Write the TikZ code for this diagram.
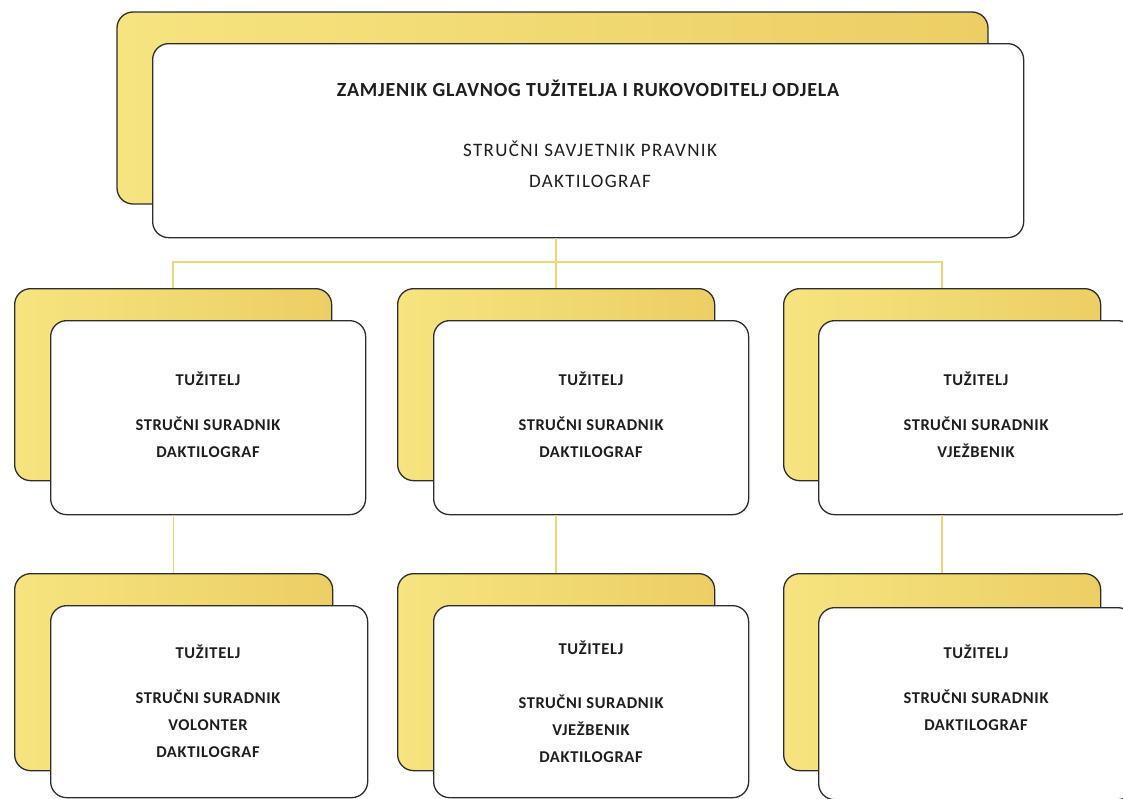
\documentclass[tikz,border=0pt]{standalone}
\usepackage{fontspec}
\setmainfont{Carlito}
\newfontfamily\boxfont[LetterSpace=4]{Carlito}
\newfontfamily\subfont[LetterSpace=7]{Carlito}
\definecolor{edge}{RGB}{45,45,45}
\definecolor{goldL}{RGB}{246,228,128}
\definecolor{goldR}{RGB}{236,206,100}
\definecolor{conn}{RGB}{236,214,120}
\definecolor{ink}{RGB}{30,30,30}
\begin{document}
\begin{tikzpicture}[x=1pt,y=-1pt,
  backbox/.style={draw=edge,line width=1.3pt,rounded corners=16pt,left color=goldL,right color=goldR},
  frontbox/.style={draw=edge,line width=1.3pt,rounded corners=16pt,fill=white},
  conline/.style={draw=conn,line width=1.4pt},
  lbl/.style={text=ink,font=\boxfont\bfseries\fontsize{16.5}{27}\selectfont,align=center,anchor=north,inner sep=0pt},
  toplbl/.style={text=ink,font=\subfont\fontsize{19}{31}\selectfont,align=center,anchor=north,inner sep=0pt}]
\useasboundingbox (0,0) rectangle (1123,798);
\begin{scope}
\clip (0,0) rectangle (1123,798);
% top
\path[backbox] (117,12) rectangle (988,204);
\node[frontbox,minimum width=871pt,minimum height=194pt,anchor=north west] (top) at (152,43) {};
\node[text=ink,font=\boxfont\bfseries\fontsize{20}{22}\selectfont,inner sep=0pt] (title) at (588,88) {ZAMJENIK GLAVNOG TUŽITELJA I RUKOVODITELJ ODJELA};
\node[toplbl] (topsub) at (590,141) {STRUČNI SAVJETNIK PRAVNIK\\DAKTILOGRAF};
% row 2 back boxes
\node[backbox,minimum width=317pt,minimum height=192pt,anchor=north west] (b1) at (14,288) {};
\node[backbox,minimum width=317pt,minimum height=192pt,anchor=north west] (b2) at (397,288) {};
\node[backbox,minimum width=317pt,minimum height=192pt,anchor=north west] (b3) at (783,288) {};
% row 2 front boxes
\node[frontbox,minimum width=315pt,minimum height=194pt,anchor=north west] (f1) at (50,320) {};
\node[frontbox,minimum width=315pt,minimum height=194pt,anchor=north west] (f2) at (433,320) {};
\node[frontbox,minimum width=315pt,minimum height=194pt,anchor=north west] (f3) at (818,320) {};
\node[lbl] (t1) at (208,372) {TUŽITELJ\\[18pt]STRUČNI SURADNIK\\DAKTILOGRAF};
\node[lbl] (t2) at (591,372) {TUŽITELJ\\[18pt]STRUČNI SURADNIK\\DAKTILOGRAF};
\node[lbl] (t3) at (976,372) {TUŽITELJ\\[18pt]STRUČNI SURADNIK\\VJEŽBENIK};
% row 3 back boxes
\node[backbox,minimum width=318pt,minimum height=197pt,anchor=north west] (c1) at (14,573) {};
\node[backbox,minimum width=317pt,minimum height=197pt,anchor=north west] (c2) at (397,573) {};
\node[backbox,minimum width=317pt,minimum height=197pt,anchor=north west] (c3) at (783,573) {};
% row 3 front boxes
\node[frontbox,minimum width=317pt,minimum height=192pt,anchor=north west] (g1) at (50,605) {};
\node[frontbox,minimum width=315pt,minimum height=192pt,anchor=north west] (g2) at (433,605) {};
\node[frontbox,minimum width=315pt,minimum height=192pt,anchor=north west] (g3) at (818,607) {};
\node[lbl] (u1) at (208,645) {TUŽITELJ\\[18pt]STRUČNI SURADNIK\\VOLONTER\\DAKTILOGRAF};
\node[lbl] (u2) at (591,641) {TUŽITELJ\\[27pt]STRUČNI SURADNIK\\VJEŽBENIK\\DAKTILOGRAF};
\node[lbl] (u3) at (976,645) {TUŽITELJ\\[18pt]STRUČNI SURADNIK\\DAKTILOGRAF};
% connectors
\coordinate (bar) at (555,262);
\draw[conline] (top.south -| b2.north) -- (b2.north);
\draw[conline] (b1.north) -- (b1.north |- bar) -- (b3.north |- bar) -- (b3.north);
\draw[conline] (f1.south -| c1.north) -- (c1.north);
\draw[conline] (f2.south -| c2.north) -- (c2.north);
\draw[conline] (f3.south -| c3.north) -- (c3.north);
\end{scope}
\end{tikzpicture}
\end{document}
